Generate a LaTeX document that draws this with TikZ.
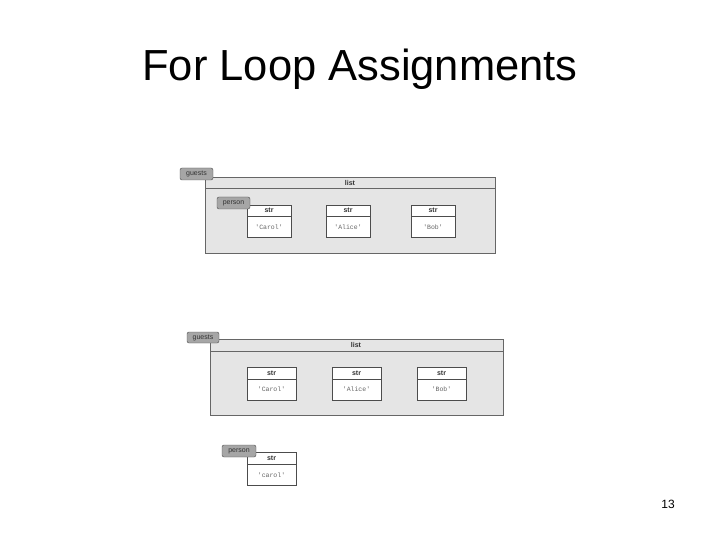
\documentclass[tikz,border=0pt]{standalone}
\usepackage{fontspec}
\setmainfont{Liberation Sans}
\setmonofont{Liberation Mono}
\usetikzlibrary{positioning}
\begin{document}
\begin{tikzpicture}[
	x=1pt, y=-1pt,
	listbox/.style = {draw=black!60, fill=black!10, line width=0.6pt},
	strbox/.style = {draw=black!70, fill=white, line width=0.6pt},
	tag/.style = {draw=black!70, fill=black!35, rounded corners=2pt,
		inner sep=1pt, font=\fontsize{7}{7}\selectfont, text=black!80},
	hdr/.style = {font=\bfseries\fontsize{7}{7}\selectfont, text=black!80},
	val/.style = {font=\ttfamily\fontsize{6.5}{6.5}\selectfont, text=black!60}
	]
	\useasboundingbox (0,0) rectangle (720,540);
	\node (title) at (360,69) {\fontsize{43.5}{43.5}\selectfont For Loop Assignments};
	\node (page) at (668,504) {\fontsize{12}{12}\selectfont 13};
	% first picture
	\draw[listbox] (205,177) rectangle (495,253);
	\draw[black!60] (205,188) -- (495,188);
	\node[hdr] (l1) at (350,182.5) {list};
	\foreach \x/\s [count=\i] in {247/Carol, 326/Alice, 411/Bob} {
		\draw[strbox] (\x,205) rectangle ++(44,32);
		\draw[black!70] (\x,216) -- ++(44,0);
		\node[hdr] (s1\i) at (\x+22,210.5) {str};
		\node[val] (v1\i) at (\x+22,227) {'\s'};
	}
	\node[tag, minimum width=33pt, minimum height=12pt] (g1) at (196.5,174) {guests};
	\node[tag, minimum width=33pt, minimum height=12pt] (p1) at (233.5,203) {person};
	% second picture
	\draw[listbox] (210,339) rectangle (503,415);
	\draw[black!60] (210,351) -- (503,351);
	\node[hdr] (l2) at (356,345) {list};
	\foreach \x/\s [count=\i] in {247/Carol, 332/Alice, 417/Bob} {
		\draw[strbox] (\x,367) rectangle ++(49,33);
		\draw[black!70] (\x,379) -- ++(49,0);
		\node[hdr] (s2\i) at (\x+24.5,373) {str};
		\node[val] (v2\i) at (\x+24.5,389.5) {'\s'};
	}
	\node[tag, minimum width=32pt, minimum height=11pt] (g2) at (203,337.5) {guests};
	\draw[strbox] (247,452) rectangle (296,485);
	\draw[black!70] (247,464) -- (296,464);
	\node[hdr] (s3) at (271.5,458) {str};
	\node[val] (v3) at (271.5,475) {'carol'};
	\node[tag, minimum width=34pt, minimum height=12pt] (p2) at (239,451) {person};
\end{tikzpicture}
\end{document}
